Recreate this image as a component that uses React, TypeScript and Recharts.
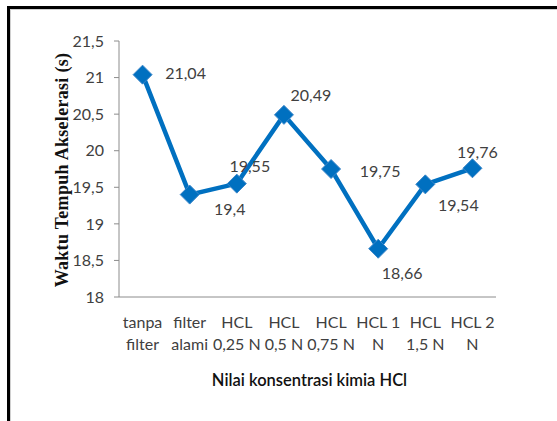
import React from "react";
import { LineChart, Line, XAxis, YAxis, LabelList } from "recharts";

const categories = [
  "tanpa\nfilter",
  "filter\nalami",
  "HCL\n0,25 N",
  "HCL\n0,5 N",
  "HCL\n0,75 N",
  "HCL 1\nN",
  "HCL\n1,5 N",
  "HCL 2\nN",
];
const values = [21.04, 19.4, 19.55, 20.49, 19.75, 18.66, 19.54, 19.76];
const yTicks = [18, 18.5, 19, 19.5, 20, 20.5, 21, 21.5];

// label offsets (style) relative to each point: [dx, dy] of label centre
const labelOffsets: [number, number][] = [
  [43, -2],
  [40, 14],
  [13, -18],
  [27, -20],
  [49, 1],
  [24, 24],
  [33, 20],
  [5, -17],
];

const data = categories.map((c, i) => ({ name: c, value: values[i] }));

const fmt = (v: number) => String(v).replace(".", ",");

const BLUE = "#0070C0";
const TEXT = "#404040";
const FONT = "Lato, 'Open Sans', sans-serif";

const XTick = (props: any) => {
  const { x, y, payload } = props;
  const lines = String(payload.value).split("\n");
  return (
    <g>
      {lines.map((l: string, i: number) => (
        <text
          key={i}
          x={x}
          y={y + 23 + i * 22}
          textAnchor="middle"
          fontSize={16}
          fontFamily={FONT}
          fill={TEXT}
        >
          {l}
        </text>
      ))}
    </g>
  );
};

const Diamond = (props: any) => {
  const { cx, cy, index } = props;
  if (cx == null || cy == null) return null;
  const r = 9.5;
  return (
    <polygon
      key={index}
      points={`${cx},${cy - r} ${cx + r},${cy} ${cx},${cy + r} ${cx - r},${cy}`}
      fill={BLUE}
      stroke="#3b86c9"
      strokeWidth={1}
    />
  );
};

const ValueLabel = (props: any) => {
  const { x, y, value, index } = props;
  const [dx, dy] = labelOffsets[index] || [0, 0];
  return (
    <text
      x={x + dx}
      y={y + dy}
      textAnchor="middle"
      dominantBaseline="central"
      fontSize={16}
      fontFamily={FONT}
      fill={TEXT}
    >
      {fmt(value)}
    </text>
  );
};

const YTitle = (props: any) => {
  const vb = props.viewBox || { x: 0, y: 41, width: 119, height: 256 };
  const cx = 62;
  const cy = vb.y + vb.height / 2 + 1;
  return (
    <text
      x={cx}
      y={cy}
      transform={`rotate(-90, ${cx}, ${cy})`}
      textAnchor="middle"
      dominantBaseline="central"
      fontSize={18}
      fontWeight={700}
      letterSpacing={0.3}
      fontFamily="'Liberation Serif', 'Times New Roman', serif"
      fill="#111"
    >
      Waktu Tempuh Akselerasi (s)
    </text>
  );
};

const XTitle = (props: any) => {
  const vb = props.viewBox || { x: 119, y: 297, width: 377, height: 60 };
  const cx = vb.x + vb.width / 2 + 2;
  return (
    <text
      x={cx}
      y={380}
      textAnchor="middle"
      dominantBaseline="central"
      fontSize={16.5}
      fontWeight={600}
      fontFamily={FONT}
      fill="#111"
    >
      Nilai konsentrasi kimia HCl
    </text>
  );
};

export default function App() {
  return (
    <div
      style={{
        position: "absolute",
        left: 0,
        top: 0,
        width: 557,
        height: 421,
        background: "#fff",
        overflow: "hidden",
      }}
    >
      <div
        style={{
          position: "absolute",
          left: 7,
          top: 6,
          width: 700,
          height: 600,
          borderLeft: "3px solid #000",
          borderTop: "3px solid #000",
          boxShadow: "inset 1px 1px 0 #d0d0d0",
        }}
      />
      <div style={{ position: "absolute", left: 0, top: 0 }}>
        <LineChart
          width={557}
          height={421}
          data={data}
          margin={{ top: 41, right: 61, bottom: 64, left: 0 }}
        >
          <XAxis
            dataKey="name"
            scale="band"
            interval={0}
            height={60}
            tick={<XTick />}
            tickLine={false}
            axisLine={{ stroke: "#8c8c8c" }}
            label={<XTitle />}
          />
          <YAxis
            width={119}
            domain={[18, 21.5]}
            ticks={yTicks}
            tickFormatter={fmt}
            tick={{ fontSize: 16, fontFamily: FONT, fill: TEXT }}
            tickSize={5}
            tickMargin={10}
            tickLine={{ stroke: "#8c8c8c" }}
            axisLine={{ stroke: "#8c8c8c" }}
            label={<YTitle />}
          />
          <Line
            type="linear"
            dataKey="value"
            stroke={BLUE}
            strokeWidth={4.5}
            dot={<Diamond />}
            activeDot={false}
            isAnimationActive={false}
          >
            <LabelList dataKey="value" content={<ValueLabel />} />
          </Line>
        </LineChart>
      </div>
    </div>
  );
}
